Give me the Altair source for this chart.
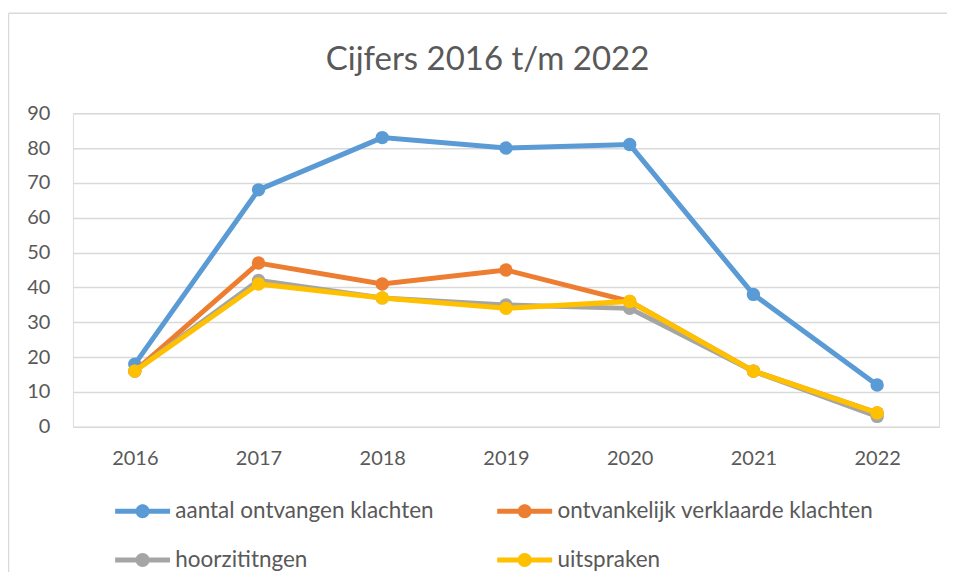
import altair as alt
import pandas as pd

years = ["2016", "2017", "2018", "2019", "2020", "2021", "2022"]
series_names = [
    "aantal ontvangen klachten",
    "ontvankelijk verklaarde klachten",
    "hoorzititngen",
    "uitspraken",
]
aantal = [18, 68, 83, 80, 81, 38, 12]
ontvankelijk = [16, 47, 41, 45, 36, 16, 4]
hoorzittingen = [16, 42, 37, 35, 34, 16, 3]
uitspraken = [16, 41, 37, 34, 36, 16, 4]
colors = ["#5B9BD5", "#ED7D31", "#A5A5A5", "#FFC000"]
y_ticks = [0, 10, 20, 30, 40, 50, 60, 70, 80, 90]
title_text = "Cijfers 2016 t/m 2022"

rows = []
for name, vals in zip(series_names, [aantal, ontvankelijk, hoorzittingen, uitspraken]):
    for yr, v in zip(years, vals):
        rows.append({"jaar": yr, "serie": name, "waarde": v})
df = pd.DataFrame(rows)

FONT = "Lato"
TXT = "#595959"
W, H = 867, 314

legend_path = ("M-2.75,-0.25L2.75,-0.25L2.75,0.25L-2.75,0.25Z "
               "M0.7,0A0.7,0.7,0,1,1,-0.7,0A0.7,0.7,0,1,1,0.7,0Z")

x_enc = alt.X("jaar:O", sort=years,
              scale=alt.Scale(type="point", padding=0.5),
              axis=alt.Axis(title=None, labelAngle=0, domain=False, ticks=False, tickSize=0,
                            grid=False, labelFontSize=20, labelColor=TXT, labelFont=FONT,
                            labelPadding=22))
y_enc = alt.Y("waarde:Q", scale=alt.Scale(domain=[0, 90], nice=False),
              axis=alt.Axis(title=None, values=y_ticks, domain=False, ticks=False, tickSize=0,
                            gridColor="#D9D9D9", gridWidth=1.5, labelFontSize=20,
                            labelColor=TXT, labelFont=FONT, labelPadding=23))
color_enc = alt.Color(
    "serie:N",
    sort=series_names,
    scale=alt.Scale(domain=series_names, range=colors),
    legend=alt.Legend(
        title=None, orient="none", legendX=58.5, legendY=387, columns=2,
        direction="horizontal", values=series_names,
        symbolType=legend_path, symbolSize=400, symbolStrokeWidth=0, symbolOpacity=1,
        labelOffset=21.5, rowPadding=26, columnPadding=62.5, padding=0,
        labelFontSize=22.5, labelFont=FONT, labelColor=TXT, labelLimit=0,
    ),
)

one = pd.DataFrame({"a": [0]})
border_left = alt.Chart(one).mark_rule(color="#D9D9D9", strokeWidth=1.5).encode(
    x=alt.value(-64.5), y=alt.value(-100), y2=alt.value(H + 400))
border_top = alt.Chart(one).mark_rule(color="#D9D9D9", strokeWidth=1.5).encode(
    x=alt.value(-64.5), x2=alt.value(W + 200), y=alt.value(-100))

title = alt.Chart(pd.DataFrame({"t": [title_text]})).mark_text(
    font=FONT, fontSize=33, color=TXT, align="center", baseline="alphabetic"
).encode(text="t:N", x=alt.value(415), y=alt.value(-43))

layers = [border_left, border_top, title]
for name in series_names:
    base = alt.Chart(df).transform_filter(alt.datum.serie == name)
    layers.append(base.mark_line(strokeWidth=5).encode(x=x_enc, y=y_enc, color=color_enc))
    layers.append(base.mark_circle(size=180, opacity=1).encode(x=x_enc, y=y_enc, color=color_enc))

chart = alt.layer(*layers).properties(
    width=W, height=H,
    autosize=alt.AutoSizeParams(type="none"),
    padding={"left": 65, "top": 105, "right": 8, "bottom": 145},
).configure_view(stroke=None).configure(background="white")

chart.save("out.html", embed_options={"renderer": "svg", "actions": False})
